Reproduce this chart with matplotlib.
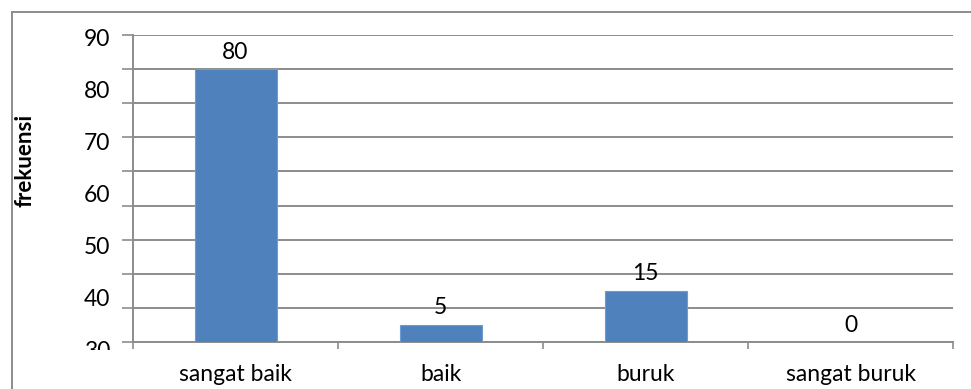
import matplotlib
matplotlib.use("Agg")
import matplotlib.pyplot as plt
from matplotlib.lines import Line2D
from matplotlib.transforms import Bbox, TransformedBbox

# data
categories = ["sangat baik", "baik", "buruk", "sangat buruk"]
frekuensi = [80, 5, 15, 0]
ytick_labels = ["90", "80", "70", "60", "50", "40", "30"]

plt.rcParams['font.family'] = ['Lato', 'DejaVu Sans']
grid_col = "#8c8c8c"
bar_col = "#4f81bd"
fs = 16.5

fig = plt.figure(figsize=(9.71, 3.89), dpi=100)
W, H = 971, 389
ax = fig.add_axes([133 / W, 1 - 342 / H, (953 - 133) / W, (342 - 35) / H])

x = list(range(len(categories)))
ax.bar(x, frekuensi, width=0.4, color=bar_col, edgecolor="#6f9bd0", linewidth=0.8, zorder=3)
for xi, v in zip(x, frekuensi):
    ax.annotate(str(v), (xi, v), xytext=(0, 12.2), textcoords="offset points",
                ha="center", va="center", fontsize=fs, zorder=4)

ax.set_xlim(-0.5, len(categories) - 0.5)
ax.set_ylim(0, 90)
ax.set_yticks(range(0, 91, 10))
ax.set_yticklabels([])
ax.yaxis.grid(True, color=grid_col, linewidth=1.4)
ax.set_axisbelow(True)
ax.tick_params(axis="y", length=8, width=1.2, color=grid_col, direction="out")

ax.set_xticks(x)
ax.set_xticklabels(categories, fontsize=fs)
ax.tick_params(axis="x", which="major", length=0, pad=16)
ax.set_xticks([i + 0.5 for i in range(-1, len(categories))], minor=True)
ax.tick_params(axis="x", which="minor", length=5, width=1.2, color=grid_col)

for s in ["top", "right"]:
    ax.spines[s].set_visible(False)
for s in ["left", "bottom"]:
    ax.spines[s].set_color(grid_col)
    ax.spines[s].set_linewidth(1.4)

# y tick labels as drawn in the source (not aligned to the gridlines)
clip = TransformedBbox(Bbox([[0, 1 - 350 / H], [1, 1]]), fig.transFigure)
for i, lab in enumerate(ytick_labels):
    t = fig.text(110 / W, 1 - (40 + i * 52) / H, lab, ha="right", va="center", fontsize=fs)
    t.set_clip_on(True)
    t.set_clip_box(clip)

fig.text(25 / W, 1 - 160 / H, "frekuensi", rotation=90, ha="center", va="center",
         fontsize=16, fontweight="bold")

# outer chart border (left and top visible)
fig.add_artist(Line2D([12 / W, 12 / W], [0, 1 - 12 / H], transform=fig.transFigure,
                      color=grid_col, linewidth=1.4))
fig.add_artist(Line2D([12 / W, 1], [1 - 12 / H, 1 - 12 / H], transform=fig.transFigure,
                      color=grid_col, linewidth=1.4))

fig.savefig("out.png", dpi=100)
